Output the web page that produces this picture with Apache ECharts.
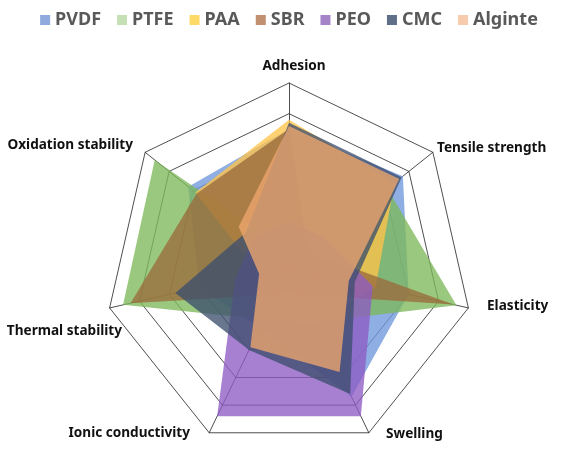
<!DOCTYPE html>
<html>
<head>
<meta charset="utf-8">
<script src="https://cdn.jsdelivr.net/npm/echarts@6/dist/echarts.min.js"></script>
<style>
  html, body { margin: 0; padding: 0; background: #fff; }
  #chart { width: 578px; height: 460px; }
</style>
</head>
<body>
<div id="chart"></div>
<script>
// indicators in ECharts order (counter-clockwise from the top)
var indicatorNames = ['Adhesion', 'Oxidation stability', 'Thermal stability', 'Ionic conductivity', 'Swelling', 'Elasticity', 'Tensile strength'];
var seriesNames = ['PVDF', 'PTFE', 'PAA', 'SBR', 'PEO', 'CMC', 'Alginte'];

// values, same order as indicatorNames
var pvdf    = [4.5, 4.2, 3.0, 2.2, 4.7, 4.0, 4.75];
var ptfe    = [0.5, 5.6, 5.55, 1.9, 2.0, 5.6, 4.1];
var paa     = [4.8, 3.9, 1.0, 1.5, 2.0, 2.9, 4.4];
var sbr     = [4.5, 3.85, 5.3, 1.0, 1.0, 5.5, 0.8];
var peo     = [1.5, 1.5, 1.8, 5.4, 5.4, 2.8, 1.5];
var cmc     = [4.7, 1.8, 3.8, 3.0, 4.6, 2.2, 4.7];
var alginte = [4.6, 2.1, 1.0, 2.9, 3.8, 2.0, 4.6];

var fillColors = ['#6f97dd', '#7cb85a', '#ffc44a', '#9b6b3c', '#8e5cc4', '#3e4f6e', '#eea66e'];
var legendColors = ['#8faadc', '#c5e0b4', '#ffd966', '#c09070', '#a483c9', '#5f6f88', '#f8cbad'];

var chart = echarts.init(document.getElementById('chart'));

var allValues = [pvdf, ptfe, paa, sbr, peo, cmc, alginte];
var series = seriesNames.map(function(name, i) {
    return {
        name: name,
        type: 'radar',
        symbol: 'none',
        itemStyle: { color: legendColors[i] },
        lineStyle: { width: 0 },
        areaStyle: { color: fillColors[i], opacity: 0.78 },
        data: [{ name: name, value: allValues[i] }]
    };
});

// axis names drawn as text so they sit where the reference has them
var nameStyle = { fontFamily: 'Noto Sans', fontWeight: 'bold', fontSize: 13.6, fill: '#111' };
function nameText(text, x, y, align) {
    return {
        type: 'text', x: x, y: y,
        style: Object.assign({ text: text, align: align, verticalAlign: 'middle' }, nameStyle)
    };
}

option = {
    animation: false,
    legend: {
        top: 6,
        left: 'center',
        icon: 'rect',
        itemWidth: 10,
        itemHeight: 10,
        itemGap: 16,
        textStyle: { fontFamily: 'Noto Sans', fontWeight: 'bold', fontSize: 18, color: '#595959' },
        data: seriesNames
    },
    radar: {
        center: [289, 267],
        radius: 184,
        startAngle: 90,
        shape: 'polygon',
        splitNumber: 6,
        indicator: indicatorNames.map(function(n) { return { name: n, min: 0, max: 6 }; }),
        axisName: { show: false },
        axisLine: { lineStyle: { color: '#222', width: 0.8 } },
        splitLine: { lineStyle: { color: '#222', width: 0.8 } },
        splitArea: { show: false }
    },
    graphic: [
        nameText('Adhesion', 294, 66, 'center'),
        nameText('Tensile strength', 437, 148, 'left'),
        nameText('Elasticity', 487, 306, 'left'),
        nameText('Swelling', 386, 434, 'left'),
        nameText('Ionic conductivity', 190, 433, 'right'),
        nameText('Thermal stability', 122, 331, 'right'),
        nameText('Oxidation stability', 133, 145, 'right')
    ],
    series: series
};

chart.setOption(option);
</script>
</body>
</html>
